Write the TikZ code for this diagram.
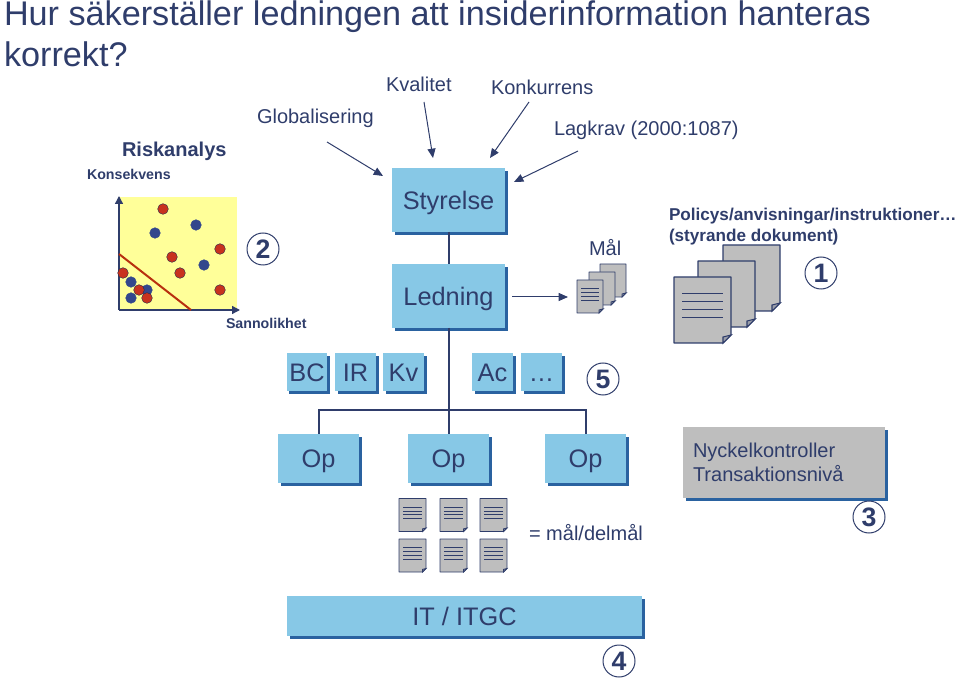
\documentclass[tikz,border=0pt]{standalone}
\usepackage{fontspec}
\setmainfont{Liberation Sans}
\usetikzlibrary{shadows,arrows.meta}
\definecolor{navy}{HTML}{2F3D6B}
\definecolor{skyb}{HTML}{87C8E6}
\definecolor{shadb}{HTML}{2A62A0}
\definecolor{greyb}{HTML}{BEBEBE}
\definecolor{yell}{HTML}{FFFF99}
\definecolor{redd}{HTML}{C8321E}
\definecolor{blued}{HTML}{33478C}
\definecolor{linered}{HTML}{B8300F}
\newcommand{\fs}[1]{\fontsize{#1}{#1}\selectfont}
\newcommand{\docshape}[6]{% x y w h fold linewidth
  \draw[navy,line width=#6,fill=greyb,line join=round] (#1,#2) -- ++(#3,0) -- ++(0,#4-#5) -- ++(-#5,#5) -- ++(#5-#3,0) -- cycle;
  \fill[navy!25!greyb,draw=navy,line width=#6] (#1+#3,#2+#4-#5) -- ++(-#5,#5*0.25) -- ++(0,#5*0.75) -- cycle;
}
\newcommand{\doclines}[6]{% x y w h inset linewidth
  \foreach \f in {0.255,0.375,0.495,0.615}
    \draw[navy,line width=#6] (#1+#5,#2+\f*#4) -- (#1+#3-#5,#2+\f*#4);
}
\tikzset{
  x=0.75pt,y=-0.75pt,
  txt/.style={text=navy,anchor=base west,inner sep=0pt,outer sep=0pt},
  boxbase/.style={inner sep=0pt,outer sep=0pt,text=navy,font=\fs{19},text height=14pt,text depth=0pt,
    general shadow={shadow xshift=2pt,shadow yshift=-2pt,fill=shadb}},
  bluebox/.style={boxbase,fill=skyb},
  greybox/.style={boxbase,fill=greyb},
  numring/.style={circle,draw=navy,line width=0.75pt,minimum size=24pt,inner sep=0pt,text=navy,font=\bfseries\fs{20},fill=white},
  arr/.style={draw=navy,line width=0.75pt,-{Triangle[length=7pt,width=6pt]}},
  tree/.style={draw=navy,line width=1.5pt},
  axisl/.style={draw=navy,line width=1pt,-{Triangle[length=6pt,width=6pt]}},
  dotr/.style={circle,fill=redd,draw=navy!70!black,line width=0.3pt,minimum size=8pt,inner sep=0pt},
  dotb/.style={circle,fill=blued,draw=blued,line width=0.3pt,minimum size=8pt,inner sep=0pt}
}
\begin{document}
\begin{tikzpicture}
\useasboundingbox (0,0) rectangle (959,680);
% title
\node[txt,font=\fs{25.65}] (t1) at (4,26) {Hur säkerställer ledningen att insiderinformation hanteras};
\node[txt,font=\fs{25.65}] (t2) at (4,67) {korrekt?};
% influences
\node[txt,font=\fs{15}] (glob) at (257,124) {Globalisering};
\node[txt,font=\fs{15}] (kval) at (386,92) {Kvalitet};
\node[txt,font=\fs{15}] (konk) at (491,95) {Konkurrens};
\node[txt,font=\fs{15}] (lag) at (554,136) {Lagkrav (2000:1087)};
% risk chart
\node[txt,font=\bfseries\fs{15}] (risk) at (122,157) {Riskanalys};
\node[txt,font=\bfseries\fs{10.65}] (kons) at (87,180) {Konsekvens};
\node[txt,font=\bfseries\fs{10.65}] (sann) at (226,329) {Sannolikhet};
\fill[yell] (119,197) rectangle (237,310);
\coordinate (orig) at (119,310);
\coordinate (ytop) at (119,196);
\coordinate (xend) at (240,310);
\draw[axisl] (orig) -- (ytop);
\draw[axisl] (orig) -- (xend);
\coordinate (r1) at (119,254);
\coordinate (r2) at (191,310);
\draw[draw=linered,line width=1.5pt] (r1) -- (r2);
\foreach \x/\y [count=\i] in {196/225,155/233,204/265,131/282,147/290,131/298}
  \node[dotb] (bd\i) at (\x,\y) {};
\foreach \x/\y [count=\i] in {163/209,220/249,172/257,180/273,123/273,139/290,147/298,220/290}
  \node[dotr] (rd\i) at (\x,\y) {};
% boxes
\node[bluebox,minimum width=84.75pt,minimum height=48pt] (sty) at (448.5,200) {Styrelse};
\node[bluebox,minimum width=84.75pt,minimum height=48pt] (led) at (448.5,296) {Ledning};
\foreach \n/\a/\b/\t in {bc/287/327/BC,ir/335/376/IR,kv/383/424/Kv,ac/472/513/Ac,el/521/562/…}
  \node[bluebox,minimum width=30.5pt,minimum height=28.5pt] (\n) at ({(\a+\b)/2},372) {\t};
\node[bluebox,minimum width=60.75pt,minimum height=37pt] (op1) at (318.5,458.5) {Op};
\node[bluebox,minimum width=60.75pt,minimum height=37pt] (op2) at (448.5,458.5) {Op};
\node[bluebox,minimum width=60.75pt,minimum height=37pt] (op3) at (585.5,458.5) {Op};
\node[bluebox,minimum width=266pt,minimum height=30pt] (it) at (464.5,616) {IT / ITGC};
\node[greybox,minimum width=151.5pt,minimum height=53pt,text height=,text depth=,font=\fontsize{15}{18}\selectfont,align=left,text width=136.5pt] (nyc) at (784,462.5) {Nyckelkontroller\\Transaktionsnivå};
% tree
\coordinate (hy) at (448.5,410);
\draw[tree] (sty.south) -- (led.north);
\draw[tree] (led.south) -- (op2.north);
\draw[tree] (op1.north) |- (hy) -| (op3.north);
% arrows
\coordinate (a1) at (327,142); \coordinate (a1e) at (383,176);
\coordinate (a2) at (424,102); \coordinate (a2e) at (433,158);
\coordinate (a3) at (529,102); \coordinate (a3e) at (490,158);
\coordinate (a4) at (578,151); \coordinate (a4e) at (514,182);
\coordinate (a5) at (512,297); \coordinate (a5e) at (568,297);
\draw[arr] (a1) -- (a1e);
\draw[arr] (a2) -- (a2e);
\draw[arr] (a3) -- (a3e);
\draw[arr] (a4) -- (a4e);
\draw[arr] (a5) -- (a5e);
% Mal docs
\node[txt,font=\fs{15}] (mal) at (589,256) {Mål};
\docshape{600}{264}{26}{33}{4}{0.7pt}
\docshape{589}{272}{26}{33}{4}{0.7pt}
\docshape{577}{280}{26}{33}{4}{0.7pt}
\doclines{577}{280}{26}{33}{4}{0.6pt}
% policy docs
\node[txt,font=\bfseries\fs{12.85}] (pol) at (669,221) {Policys/anvisningar/instruktioner…};
\node[txt,font=\bfseries\fs{12.85}] (sty2) at (669,242) {(styrande dokument)};
\docshape{723}{245}{57}{66}{8}{0.8pt}
\docshape{698}{261}{57}{66}{8}{0.8pt}
\docshape{674}{277}{57}{66}{8}{0.8pt}
\doclines{674}{277}{57}{66}{8}{0.7pt}
% small docs
\foreach \x in {399,440,480}
  \foreach \y in {498.5,539}{
    \docshape{\x}{\y}{27}{33}{3.5}{0.6pt}
    \doclines{\x}{\y}{27}{33}{4}{0.55pt}
  }
\node[txt,font=\fs{15}] (mdel) at (529,540) {= mål/delmål};
% numbers
\node[numring] (n2) at (263,249) {2};
\node[numring] (n1) at (821,273) {1};
\node[numring] (n5) at (603,379) {5};
\node[numring] (n3) at (869,517) {3};
\node[numring] (n4) at (619,661) {4};
\end{tikzpicture}
\end{document}
